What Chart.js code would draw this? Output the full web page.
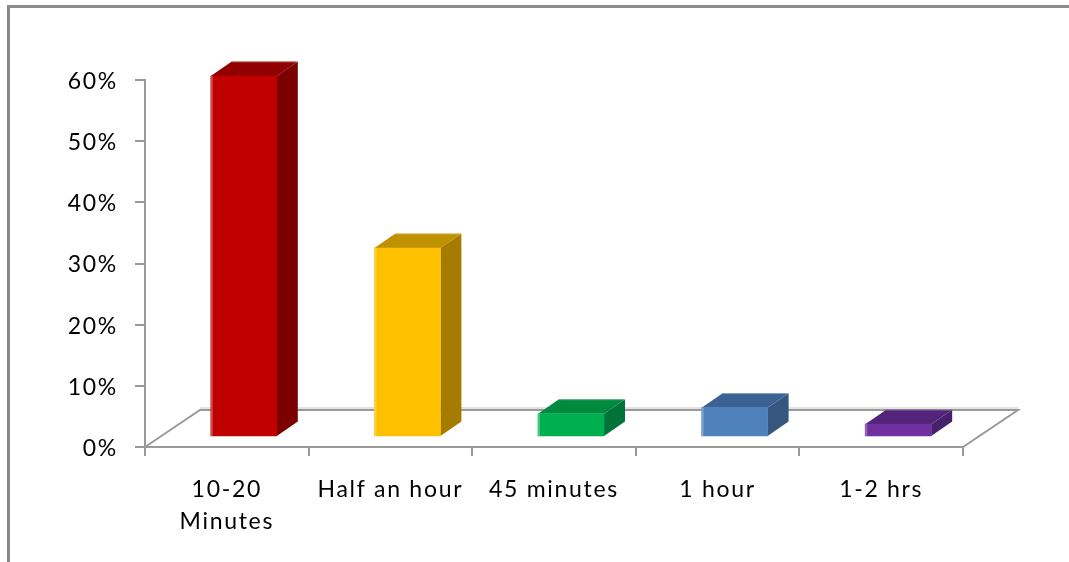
<!DOCTYPE html>
<html>
<head>
<meta charset="utf-8">
<style>
  html, body { margin: 0; padding: 0; background: #fff; }
  #frame { position: absolute; left: 7px; top: 5px; width: 1062px; height: 557px;
           border-left: 3px solid #888; border-top: 3px solid #8c8c8c; box-sizing: border-box; }
  #wrap { position: absolute; left: 0; top: 0; width: 1069px; height: 562px; }
</style>
<script src="https://cdn.jsdelivr.net/npm/chart.js@4/dist/chart.umd.min.js"></script>
</head>
<body>
<div id="frame"></div>
<div id="wrap"><canvas id="c" width="1069" height="562"></canvas></div>
<script>
const categories = [['10-20', 'Minutes'], 'Half an hour', '45 minutes', '1 hour', '1-2 hrs'];
const shares = [59, 30.9, 3.8, 4.8, 2.1];
const frontColors = ['#C00000', '#FFC000', '#00B050', '#4F81BD', '#7030A0'];
const sideColors = ['#7A0000', '#A67C00', '#00723A', '#34567F', '#47206A'];
const topColors = ['#900000', '#BF9000', '#008A40', '#3B6293', '#54247A'];

// Offsets of the fake 3D look, in pixels.
const floorDepth = { x: 55, y: -37 };
const barShift = { x: 17, y: -10 };
const barDepth = { x: 21, y: -14.5 };

function poly(ctx, pts, fill) {
  ctx.beginPath();
  pts.forEach((p, i) => i ? ctx.lineTo(p[0], p[1]) : ctx.moveTo(p[0], p[1]));
  ctx.closePath();
  ctx.fillStyle = fill;
  ctx.fill();
}

const box3d = {
  id: 'box3d',
  // Wider tracking for all tick labels.
  beforeDraw(chart) {
    chart.ctx.letterSpacing = '1.7px';
  },
  // Floor outline behind the columns, with a pale halo along its back edge.
  beforeDatasetsDraw(chart) {
    const { ctx, chartArea: a } = chart;
    const bx = floorDepth.x, by = floorDepth.y;
    ctx.save();
    ctx.lineWidth = 2;
    ctx.strokeStyle = '#e2e2e2';
    ctx.beginPath();
    ctx.moveTo(a.left + bx, a.bottom + by - 2);
    ctx.lineTo(a.right + bx, a.bottom + by - 2);
    ctx.stroke();
    ctx.strokeStyle = '#999';
    ctx.beginPath();
    ctx.moveTo(a.left, a.bottom);
    ctx.lineTo(a.left + bx, a.bottom + by);
    ctx.lineTo(a.right + bx, a.bottom + by);
    ctx.lineTo(a.right, a.bottom);
    ctx.stroke();
    ctx.restore();
  },
  // Columns stand inside the floor, so shift them and add side and top faces.
  beforeDatasetDraw(chart, args) {
    const { ctx } = chart;
    ctx.save();
    ctx.translate(barShift.x, barShift.y);
    args.meta.data.forEach((el, i) => {
      const l = el.x - el.width / 2, r = el.x + el.width / 2;
      const t = el.y, b = el.base;
      const dx = barDepth.x, dy = barDepth.y;
      poly(ctx, [[r, t], [r + dx, t + dy], [r + dx, b + dy], [r, b]], sideColors[i]);
      poly(ctx, [[l, t], [l + dx, t + dy], [r + dx, t + dy], [r, t]], topColors[i]);
    });
  },
  // Soft light edges on the left of each front face and the rear of each top face.
  afterDatasetDraw(chart, args) {
    const { ctx } = chart;
    args.meta.data.forEach(el => {
      const l = el.x - el.width / 2, r = el.x + el.width / 2;
      const dx = barDepth.x, dy = barDepth.y;
      ctx.fillStyle = 'rgba(255,255,255,0.28)';
      ctx.fillRect(l, el.y, 2, el.base - el.y);
      ctx.fillStyle = 'rgba(255,255,255,0.22)';
      ctx.fillRect(l + dx, el.y + dy, r - l, 1);
    });
    ctx.restore();
  }
};

const labelFont = { family: 'Lato', size: 23, lineHeight: 1.39 };

new Chart(document.getElementById('c'), {
  type: 'bar',
  data: {
    labels: categories,
    datasets: [{
      data: shares,
      backgroundColor: frontColors,
      borderWidth: 0,
      barThickness: 66,
      clip: false
    }]
  },
  options: {
    responsive: false,
    animation: false,
    layout: { padding: { top: 80, right: 106, bottom: 0, left: 0 } },
    plugins: { legend: { display: false }, tooltip: { enabled: false } },
    scales: {
      x: {
        afterFit(s) { s.height = 115; },
        border: { color: '#999', width: 2 },
        grid: { drawOnChartArea: false, color: '#999', lineWidth: 2, tickLength: 9 },
        ticks: { font: labelFont, color: '#000', padding: 18, maxRotation: 0, autoSkip: false }
      },
      y: {
        min: 0,
        max: 60,
        afterFit(s) { s.width = 145; },
        border: { color: '#999', width: 2 },
        grid: { drawOnChartArea: false, color: '#999', lineWidth: 2, tickLength: 10 },
        ticks: { stepSize: 10, font: labelFont, color: '#000', padding: 17, labelOffset: 1.5, callback: v => v + '%' }
      }
    }
  },
  plugins: [box3d]
});
</script>
</body>
</html>
